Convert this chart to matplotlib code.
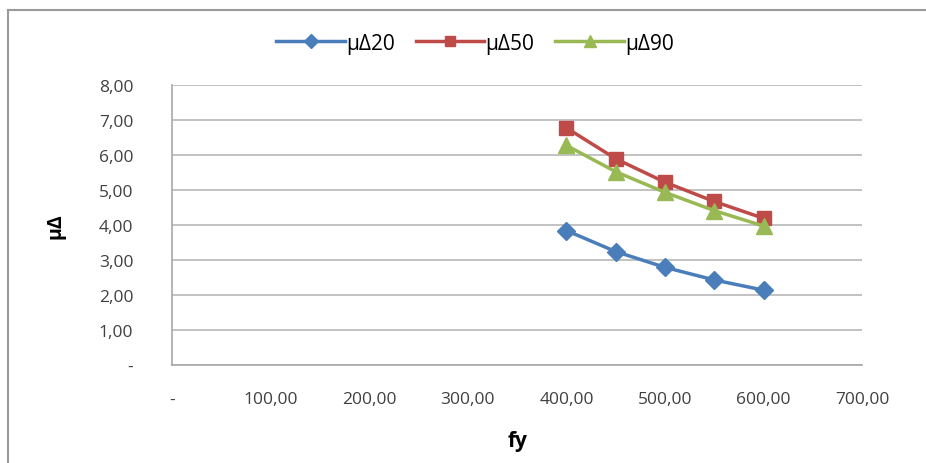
import matplotlib.pyplot as plt
from matplotlib.lines import Line2D
from matplotlib.ticker import FuncFormatter

# data
fy = [400, 450, 500, 550, 600]
mu20 = [3.84, 3.24, 2.79, 2.43, 2.14]
mu50 = [6.77, 5.89, 5.22, 4.67, 4.19]
mu90 = [6.27, 5.52, 4.93, 4.41, 3.97]

plt.rcParams["font.family"] = ["Open Sans", "DejaVu Sans"]

fig = plt.figure(figsize=(9.26, 4.64), dpi=100)
ax = fig.add_axes([0.186, 0.211, 0.745, 0.604])

ax.plot(fy, mu20, color="#4a7ebb", lw=2.5, marker="D", ms=9, label="μΔ20")
ax.plot(fy, mu50, color="#be4b48", lw=2.5, marker="s", ms=10, label="μΔ50")
ax.plot(fy, mu90, color="#98b954", lw=2.5, marker="^", ms=12, label="μΔ90")

ax.set_xlim(0, 700)
ax.set_ylim(0, 8)
ax.set_xticks(range(0, 701, 100))
ax.set_yticks(range(0, 9))


def comma_fmt(v, pos):
    if v == 0:
        return "-"
    return f"{v:.2f}".replace(".", ",")


ax.xaxis.set_major_formatter(FuncFormatter(comma_fmt))
ax.yaxis.set_major_formatter(FuncFormatter(comma_fmt))
ax.tick_params(axis="both", labelsize=12.5, colors="#404040")
ax.tick_params(axis="x", length=0, pad=19)
ax.tick_params(axis="y", length=0, pad=28)

ax.grid(True, axis="y", color="#b8b8b8", lw=1.2)
ax.set_axisbelow(True)
for side in ["top", "right"]:
    ax.spines[side].set_visible(False)
for side in ["left", "bottom"]:
    ax.spines[side].set_color("#a8a8a8")
    ax.spines[side].set_linewidth(1.2)

ax.set_xlabel("fy", fontsize=15, fontweight="bold", labelpad=16)
ax.set_ylabel("μΔ", fontsize=14, fontweight="bold", labelpad=24)

fig.legend(loc="center", bbox_to_anchor=(0.513, 0.905), ncol=3, frameon=False,
           fontsize=15, handlelength=3.3, columnspacing=1.0, handletextpad=0.05,
           markerscale=0.75)

# only the top and left edges of the outer frame are inside the picture
fig.add_artist(Line2D([8 / 926, 8 / 926], [0, 1 - 11 / 464], transform=fig.transFigure,
                      color="#9a9a9a", lw=1.5))
fig.add_artist(Line2D([8 / 926, 1], [1 - 11 / 464, 1 - 11 / 464], transform=fig.transFigure,
                      color="#9a9a9a", lw=1.5))

fig.savefig("out.png", dpi=100)
